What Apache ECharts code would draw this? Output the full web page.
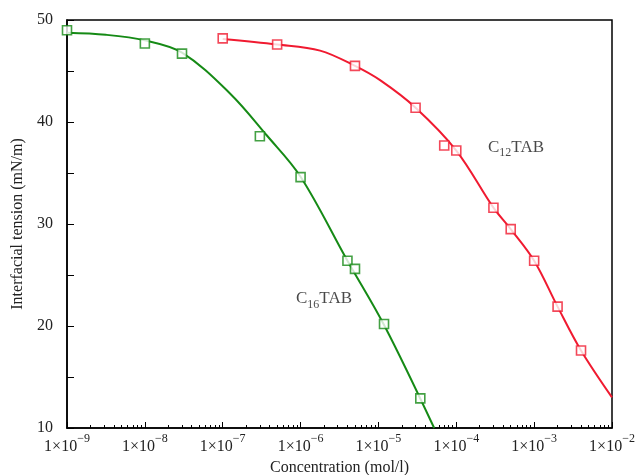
<!DOCTYPE html>
<html>
<head>
<meta charset="utf-8">
<script src="https://cdn.jsdelivr.net/npm/echarts@6/dist/echarts.min.js"></script>
<style>html,body{margin:0;padding:0;background:#fff}#c{width:641px;height:475px}</style>
</head>
<body>
<div id="c"></div>
<script>
// C16TAB measured points [concentration mol/l, tension mN/m]
const c16Conc = [1e-9, 1e-8, 3e-8, 3e-7, 1e-6, 4e-6, 5e-6, 1.18e-5, 3.45e-5];
const c16Tension = [49.0, 47.7, 46.7, 38.6, 34.6, 26.4, 25.6, 20.2, 12.9];
// C16TAB fitted curve
const c16CurveConc = [1e-9, 3.16e-9, 1e-8, 3e-8, 1.24e-7, 3.67e-7, 1e-6, 4e-6, 1.2e-5, 5.2e-5];
const c16CurveTension = [48.75, 48.55, 48.0, 46.8, 42.8, 38.7, 34.64, 26.4, 20.0, 10.0];
// C12TAB measured points
const c12Conc = [1e-7, 5e-7, 5e-6, 3e-5, 7e-5, 1e-4, 3e-4, 5e-4, 1e-3, 2e-3, 4e-3];
const c12Tension = [48.2, 47.6, 45.5, 41.4, 37.7, 37.2, 31.6, 29.5, 26.4, 21.9, 17.6];
// C12TAB fitted curve
const c12CurveConc = [1e-7, 5e-7, 1.78e-6, 5e-6, 1.05e-5, 3e-5, 1e-4, 3e-4, 5e-4, 1e-3, 2e-3, 4e-3, 1e-2];
const c12CurveTension = [48.14, 47.6, 47.0, 45.5, 44.1, 41.4, 37.2, 31.6, 29.5, 26.4, 21.9, 17.6, 13.0];
// annotation labels
const labelConc = [2.0e-6, 5.85e-4];
const labelTension = [22.5, 37.35];
const labelText = ['{n|C}{s|16}{n|TAB}', '{n|C}{s|12}{n|TAB}'];
// axis ticks
const xMajorExp = [-9, -8, -7, -6, -5, -4, -3, -2];
const yLabels = [10, 20, 30, 40, 50];

const green = '#158a15';
const red = '#f01a30';
const font = 'Liberation Serif';

const minorTicks = [];
for (let e = -9; e < -2; e++) for (let m = 2; m <= 9; m++) minorTicks.push(m * Math.pow(10, e));

const pairs = (xs, ys) => xs.map((x, i) => [x, ys[i]]);
const labelRich = {
  n: {fontFamily: font, fontSize: 17, color: '#1a1a1a', lineHeight: 20, verticalAlign: 'top', textBorderWidth: 0},
  s: {fontFamily: font, fontSize: 12, color: '#1a1a1a', lineHeight: 20, verticalAlign: 'bottom', textBorderWidth: 0}
};

const chart = echarts.init(document.getElementById('c'), null, {renderer: 'canvas'});
chart.setOption({
  animation: false,
  backgroundColor: '#fff',
  grid: {left: 67, right: 29, top: 20, bottom: 47, show: true, borderColor: '#000', borderWidth: 1.5,
         containLabel: false, outerBoundsMode: 'none'},
  xAxis: [{
    type: 'log', logBase: 10, min: 1e-9, max: 1e-2,
    name: 'Concentration (mol/l)', nameLocation: 'middle', nameGap: 30,
    nameTextStyle: {fontFamily: font, fontSize: 16, color: '#222'},
    axisLine: {show: true, lineStyle: {color: '#000', width: 1.5}},
    axisTick: {show: true, inside: true, length: 6, lineStyle: {color: '#000', width: 1}},
    splitLine: {show: false},
    axisLabel: {
      margin: 5,
      formatter: v => '{b|1×10}{s|−' + Math.abs(Math.round(Math.log10(v))) + '}',
      rich: {
        b: {fontFamily: font, fontSize: 16, color: '#222', lineHeight: 22, verticalAlign: 'bottom'},
        s: {fontFamily: font, fontSize: 12, color: '#222', lineHeight: 22, verticalAlign: 'top'}
      }
    }
  }, {
    type: 'log', logBase: 10, min: 1e-9, max: 1e-2, position: 'bottom',
    axisLine: {show: false},
    axisLabel: {show: false},
    splitLine: {show: false},
    axisTick: {show: true, inside: true, length: 3, customValues: minorTicks, lineStyle: {color: '#000', width: 1}}
  }],
  yAxis: {
    type: 'value', min: 10, max: 50, interval: 5,
    name: 'Interfacial tension (mN/m)', nameLocation: 'middle', nameGap: 39,
    nameTextStyle: {fontFamily: font, fontSize: 16, color: '#222'},
    axisLine: {show: true, lineStyle: {color: '#000', width: 1.5}},
    axisTick: {show: true, inside: true, length: 7, lineStyle: {color: '#000', width: 1}},
    splitLine: {show: false},
    axisLabel: {
      fontFamily: font, fontSize: 16, color: '#222', margin: 14,
      formatter: v => (yLabels.indexOf(v) >= 0 ? String(v) : '')
    }
  },
  series: [
    {
      type: 'line', data: pairs(c16CurveConc, c16CurveTension), smooth: 0.35, showSymbol: false,
      lineStyle: {color: green, width: 2}, z: 2
    },
    {
      type: 'line', data: pairs(c12CurveConc, c12CurveTension), smooth: 0.35, showSymbol: false,
      lineStyle: {color: red, width: 2}, z: 2
    },
    {
      type: 'scatter', data: pairs(c16Conc, c16Tension), symbol: 'rect', symbolSize: 9,
      itemStyle: {color: '#fff', borderColor: green, borderWidth: 1.6}, z: 3, clip: false
    },
    {
      type: 'scatter', data: pairs(c12Conc, c12Tension), symbol: 'rect', symbolSize: 9,
      itemStyle: {color: '#fff', borderColor: red, borderWidth: 1.6}, z: 3, clip: false
    },
    {
      type: 'scatter', symbol: 'rect', symbolSize: 2, itemStyle: {color: 'rgba(0,0,0,0)'}, silent: true, z: 4,
      data: labelConc.map((x, i) => ({value: [x, labelTension[i]], label: {formatter: labelText[i]}})),
      label: {show: true, position: 'inside', color: '#1a1a1a', textBorderWidth: 0, rich: labelRich}
    }
  ]
});
</script>
</body>
</html>
